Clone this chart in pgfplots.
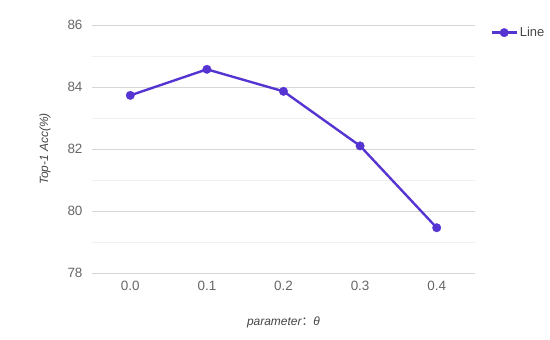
\documentclass[border=0pt]{standalone}
\usepackage{pgfplots}
\pgfplotsset{compat=1.18}
\usepackage{fontspec}
\setmainfont{Liberation Sans}
\newfontfamily\cjk{Noto Sans CJK SC}
\definecolor{linecol}{RGB}{86,52,210}
\definecolor{ticktext}{RGB}{102,102,102}
\definecolor{labtext}{RGB}{68,68,68}
\begin{document}
\begin{tikzpicture}
\useasboundingbox (0,0) rectangle (550bp,340bp);
\begin{axis}[
  at={(92bp,67bp)}, anchor=south west,
  scale only axis, width=383bp, height=248bp,
  xmin=-0.5, xmax=4.5, ymin=78, ymax=86,
  xtick={0,1,2,3,4}, xticklabels={0.0,0.1,0.2,0.3,0.4},
  ytick={78,80,82,84,86}, minor ytick={79,81,83,85},
  /pgf/number format/assume math mode=true,
  axis line style={draw=none},
  major tick length=0pt, minor tick length=0pt,
  ymajorgrids, yminorgrids,
  major grid style={draw=black!16, line width=0.8pt},
  minor grid style={draw=black!6, line width=0.8pt},
  tick label style={font=\fontsize{13.5}{15}\selectfont, text=ticktext},
  yticklabel style={xshift=-6bp},
  xticklabel style={yshift=-5bp},
  xlabel={\itshape parameter{\cjk ：}θ},
  ylabel={\itshape Top-1 Acc(\%)},
  label style={font=\fontsize{12}{14}\selectfont, text=labtext},
  xlabel style={yshift=-19bp},
  ylabel style={yshift=10bp},
  legend style={at={(1.04,1.0)}, anchor=north west, draw=none, fill=none,
    font=\fontsize{13}{15}\selectfont, text=labtext, inner sep=0pt,
    legend cell align=left},
  legend image code/.code={
    \draw[mark repeat=2, mark phase=2] plot coordinates {(0bp,0bp) (12.5bp,0bp) (25bp,0bp)};
  },
]
\addplot[color=linecol, line width=2.4pt, mark=*, mark size=4.3pt,
  mark options={solid, line width=0.3pt, fill=linecol, draw=linecol}]
  coordinates {(0,83.73) (1,84.57) (2,83.86) (3,82.1) (4,79.46)};
\addlegendentry{Line}
\end{axis}
\end{tikzpicture}
\end{document}
